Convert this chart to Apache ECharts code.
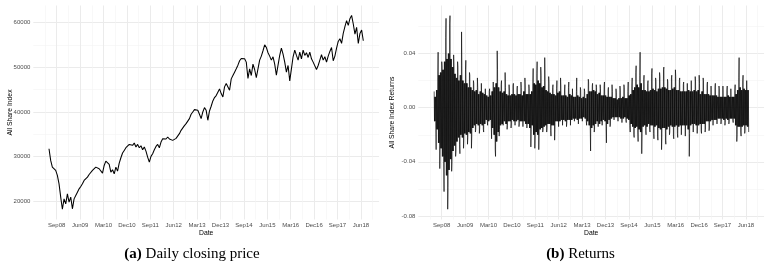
<!DOCTYPE html>
<html><head><meta charset="utf-8">
<script src="https://cdn.jsdelivr.net/npm/echarts@6/dist/echarts.min.js"></script>
<style>html,body{margin:0;padding:0;background:#fff}#c{width:767px;height:267px}</style>
</head><body><div id="c"></div>
<script>
// x axis unit: months since 1 Dec 2007
const xTickMonths = [9,18,27,36,45,54,63,72,81,90,99,108,117,126];
const xTickLabels = ['Sep08','Jun09','Mar10','Dec10','Sep11','Jun12','Mar13','Dec13','Sep14','Jun15','Mar16','Dec16','Sep17','Jun18'];
const xMinorMonths = [4.5,13.5,22.5,31.5,40.5,49.5,58.5,67.5,76.5,85.5,94.5,103.5,112.5,121.5,130.5];
const priceTicks = [20000,30000,40000,50000,60000];
const priceMinorTicks = [25000,35000,45000,55000];
const returnTicks = [-0.08,-0.04,0,0.04];
const returnMinorTicks = [-0.06,-0.02,0.02,0.06];

// Daily closing price, sampled every ~0.643 months from ~June 2008
const priceStartMonth = 6.04, priceStepMonths = 0.643;
const priceValues = [
31760,29140,27640,27790,26890,25770,23890,20900,18200,20520,
19400,21650,19780,20900,18300,20520,21270,22020,22770,23300,
23890,24640,25020,25390,25990,26290,26890,27040,27640,27790,
27270,27640,26290,28010,28990,29290,28240,26520,27040,26140,
27640,26740,28540,29740,30790,31380,31980,32280,32730,32880,
32510,33030,32130,32730,31980,32430,31530,32130,31230,29890,
28760,30040,30640,31530,32280,32730,31980,33260,34010,34380,
33930,34380,33930,34230,33630,33330,34080,34380,35130,35880,
36180,36930,37380,37680,38500,39470,40000,40520,40820,40370,
39470,38500,40000,40970,40370,38130,40220,41270,42470,43220,
43670,44420,45170,44120,43370,45620,46370,46810,44870,47410,
48160,48910,49660,50480,51460,51980,51610,51910,51160,47490,
49660,48160,50710,49510,47710,49660,51610,52510,53710,55050,
54450,53260,52510,51610,52360,50710,48240,50480,52660,54300,
52960,51160,48910,50410,46960,49660,52360,53860,52660,51610,
53410,51910,53860,52660,53260,52210,53410,51910,51160,50860,
49510,50410,51610,52810,51610,52360,51160,52510,53560,54450,
51460,52510,54300,55800,56400,55350,57600,59100,60450,59400,
60900,61640,59700,57450,58950,55350,57600,58350,55950
];

// Returns: per ~0.76-month column, the extreme high, dense-core low, dense-core high, extreme low
const retStartMonth = 6.1, retStepMonths = 0.7616;
const retHigh = [
0.012,0.022,0.041,0.034,0.030,0.052,0.066,0.062,0.068,0.039,
0.031,0.034,0.030,0.056,0.031,0.028,0.035,0.026,0.024,0.020,
0.018,0.022,0.015,0.018,0.017,0.014,0.015,0.012,0.014,0.019,
0.020,0.042,0.028,0.017,0.020,0.026,0.015,0.017,0.013,0.016,
0.018,0.014,0.016,0.019,0.015,0.022,0.016,0.017,0.014,0.018,
0.029,0.025,0.034,0.030,0.024,0.037,0.020,0.023,0.018,0.015,
0.017,0.014,0.020,0.022,0.016,0.013,0.017,0.015,0.019,0.014,
0.015,0.012,0.022,0.015,0.013,0.014,0.012,0.021,0.019,0.016,
0.018,0.017,0.015,0.017,0.014,0.016,0.019,0.013,0.015,0.017,
0.012,0.014,0.011,0.016,0.013,0.017,0.015,0.012,0.019,0.016,
0.022,0.026,0.031,0.024,0.041,0.021,0.024,0.018,0.020,0.025,
0.029,0.022,0.020,0.026,0.023,0.028,0.030,0.021,0.019,0.022,
0.024,0.028,0.023,0.020,0.022,0.017,0.019,0.018,0.019,0.020,
0.021,0.023,0.019,0.024,0.018,0.022,0.020,0.017,0.019,0.016,
0.017,0.015,0.018,0.016,0.014,0.016,0.015,0.013,0.016,0.014,
0.015,0.013,0.017,0.022,0.037,0.020,0.024,0.020,0.021
];
const retLow = [
-0.010,-0.031,-0.045,-0.028,-0.040,-0.062,-0.075,-0.059,-0.047,-0.040,
-0.036,-0.032,-0.027,-0.034,-0.030,-0.024,-0.027,-0.022,-0.030,-0.021,
-0.018,-0.016,-0.019,-0.015,-0.016,-0.018,-0.010,-0.013,-0.012,-0.023,
-0.031,-0.036,-0.021,-0.016,-0.013,-0.012,-0.016,-0.013,-0.015,-0.012,
-0.013,-0.012,-0.014,-0.012,-0.014,-0.013,-0.015,-0.014,-0.029,-0.016,
-0.030,-0.020,-0.031,-0.018,-0.018,-0.016,-0.018,-0.015,-0.017,-0.021,
-0.024,-0.016,-0.014,-0.015,-0.013,-0.012,-0.014,-0.011,-0.013,-0.012,
-0.010,-0.011,-0.012,-0.011,-0.010,-0.009,-0.010,-0.013,-0.015,-0.032,
-0.018,-0.016,-0.014,-0.015,-0.013,-0.012,-0.014,-0.026,-0.014,-0.012,
-0.009,-0.008,-0.010,-0.009,-0.011,-0.010,-0.009,-0.011,-0.013,-0.018,
-0.020,-0.022,-0.018,-0.025,-0.034,-0.019,-0.017,-0.020,-0.016,-0.018,
-0.019,-0.023,-0.021,-0.024,-0.031,-0.022,-0.024,-0.027,-0.020,-0.018,
-0.021,-0.023,-0.019,-0.022,-0.020,-0.019,-0.021,-0.020,-0.036,-0.019,
-0.018,-0.017,-0.019,-0.020,-0.017,-0.019,-0.018,-0.016,-0.017,-0.015,
-0.013,-0.014,-0.012,-0.011,-0.012,-0.010,-0.013,-0.011,-0.012,-0.010,
-0.009,-0.011,-0.025,-0.020,-0.018,-0.021,-0.019,-0.017,-0.018
];
const retCoreHigh = [
0.008,0.013,0.024,0.026,0.028,0.034,0.036,0.040,0.036,0.030,
0.025,0.022,0.020,0.024,0.020,0.018,0.018,0.015,0.015,0.013,
0.012,0.013,0.010,0.012,0.011,0.010,0.009,0.008,0.009,0.012,
0.015,0.018,0.015,0.012,0.011,0.012,0.010,0.009,0.009,0.010,
0.010,0.009,0.010,0.010,0.009,0.012,0.010,0.010,0.010,0.012,
0.018,0.017,0.020,0.018,0.015,0.016,0.013,0.012,0.011,0.010,
0.010,0.009,0.011,0.012,0.009,0.009,0.009,0.008,0.010,0.009,
0.008,0.008,0.009,0.008,0.007,0.008,0.007,0.010,0.012,0.012,
0.013,0.012,0.010,0.011,0.009,0.009,0.009,0.008,0.008,0.008,
0.007,0.007,0.006,0.007,0.007,0.008,0.007,0.007,0.009,0.010,
0.013,0.015,0.017,0.015,0.018,0.013,0.013,0.012,0.012,0.013,
0.014,0.013,0.012,0.014,0.014,0.015,0.015,0.014,0.013,0.013,
0.014,0.015,0.013,0.013,0.012,0.012,0.012,0.012,0.013,0.012,
0.012,0.013,0.012,0.013,0.010,0.012,0.010,0.010,0.010,0.009,
0.009,0.009,0.009,0.008,0.008,0.008,0.008,0.008,0.009,0.008,
0.008,0.008,0.010,0.013,0.015,0.013,0.014,0.013,0.013
];
const retCoreLow = [
-0.010,-0.016,-0.026,-0.030,-0.036,-0.040,-0.050,-0.046,-0.038,-0.032,
-0.028,-0.025,-0.022,-0.020,-0.022,-0.019,-0.020,-0.018,-0.019,-0.015,
-0.013,-0.012,-0.013,-0.012,-0.013,-0.012,-0.009,-0.010,-0.009,-0.015,
-0.020,-0.025,-0.018,-0.013,-0.012,-0.010,-0.012,-0.010,-0.010,-0.009,
-0.010,-0.010,-0.009,-0.010,-0.010,-0.010,-0.012,-0.012,-0.015,-0.013,
-0.020,-0.018,-0.020,-0.016,-0.015,-0.014,-0.013,-0.012,-0.012,-0.013,
-0.013,-0.010,-0.010,-0.010,-0.009,-0.009,-0.010,-0.009,-0.009,-0.009,
-0.008,-0.008,-0.009,-0.008,-0.008,-0.007,-0.008,-0.010,-0.013,-0.015,
-0.013,-0.012,-0.010,-0.012,-0.010,-0.009,-0.010,-0.012,-0.009,-0.008,
-0.007,-0.007,-0.007,-0.007,-0.008,-0.008,-0.007,-0.008,-0.009,-0.012,
-0.014,-0.015,-0.014,-0.016,-0.018,-0.014,-0.013,-0.014,-0.012,-0.013,
-0.013,-0.014,-0.013,-0.015,-0.016,-0.015,-0.015,-0.016,-0.014,-0.013,
-0.014,-0.014,-0.013,-0.014,-0.013,-0.013,-0.013,-0.013,-0.016,-0.013,
-0.012,-0.012,-0.013,-0.013,-0.012,-0.012,-0.012,-0.010,-0.010,-0.010,
-0.009,-0.009,-0.009,-0.008,-0.008,-0.008,-0.009,-0.008,-0.009,-0.008,
-0.008,-0.008,-0.013,-0.014,-0.014,-0.014,-0.013,-0.013,-0.014
];

const priceData = priceValues.map((v, i) => [priceStartMonth + i * priceStepMonths, v]);
// Each column is drawn as a dense up-down stroke: extreme, core, core, core, core, extreme
const retData = [];
retHigh.forEach((h, j) => {
  const x0 = retStartMonth + j * retStepMonths;
  const seq = (j % 2 === 0)
    ? [h, retCoreLow[j], retCoreHigh[j], retCoreLow[j], retCoreHigh[j], retLow[j]]
    : [retLow[j], retCoreHigh[j], retCoreLow[j], retCoreHigh[j], retCoreLow[j], h];
  seq.forEach((v, k) => retData.push([x0 + retStepMonths * k / 6, v]));
});

const SANS = '"Liberation Sans", Arial, sans-serif';
const tickLabel = { fontFamily: SANS, fontSize: 6, color: '#4d4d4d', margin: 3 };
const majorLine = { show: true, lineStyle: { color: '#ebebeb', width: 1 } };
const minorLine = { show: true, lineStyle: { color: '#f4f4f4', width: 0.6 } };
const X_MIN = 0, X_MAX = 133;

function xMain(g) {
  return {
    type: 'value', gridIndex: g, min: X_MIN, max: X_MAX, position: 'bottom',
    axisLine: { show: false }, axisTick: { show: false, customValues: xTickMonths },
    axisLabel: Object.assign({ customValues: xTickMonths,
      formatter: v => { const k = xTickMonths.indexOf(Math.round(v)); return k >= 0 ? xTickLabels[k] : ''; } }, tickLabel),
    splitLine: majorLine,
    name: 'Date', nameLocation: 'middle', nameGap: 10.5, nameMoveOverlap: false,
    nameTextStyle: { fontFamily: SANS, fontSize: 6.8, color: '#000' }
  };
}
function xMinor(g) {
  return {
    type: 'value', gridIndex: g, min: X_MIN, max: X_MAX, position: 'top',
    axisLine: { show: false }, axisTick: { show: false, customValues: xMinorMonths },
    axisLabel: { show: false }, splitLine: minorLine
  };
}
function yMain(g, min, max, ticks, fmt, name, gap) {
  return {
    type: 'value', gridIndex: g, min: min, max: max, position: 'left',
    axisLine: { show: false }, axisTick: { show: false, customValues: ticks },
    axisLabel: Object.assign({ customValues: ticks, formatter: fmt }, tickLabel),
    splitLine: majorLine,
    name: name, nameLocation: 'middle', nameGap: gap, nameMoveOverlap: false,
    nameTextStyle: { fontFamily: SANS, fontSize: 6.8, color: '#000' }
  };
}
function yMinor(g, min, max, ticks) {
  return {
    type: 'value', gridIndex: g, min: min, max: max, position: 'right',
    axisLine: { show: false }, axisTick: { show: false, customValues: ticks },
    axisLabel: { show: false }, splitLine: minorLine
  };
}

const chart = echarts.init(document.getElementById('c'), null, { renderer: 'canvas' });
chart.setOption({
  backgroundColor: '#fff',
  animation: false,
  grid: [
    { left: 33.3, top: 5.5, width: 345.8, height: 214, outerBoundsMode: 'none' },
    { left: 418.3, top: 5.5, width: 345.8, height: 214, outerBoundsMode: 'none' }
  ],
  xAxis: [xMain(0), xMinor(0), xMain(1), xMinor(1)],
  yAxis: [
    yMain(0, 15900, 63850, priceTicks, v => String(Math.round(v)), 'All Share Index', 20),
    yMinor(0, 15900, 63850, priceMinorTicks),
    yMain(1, -0.0826, 0.0755, returnTicks, v => v.toFixed(2), 'All Share Index Returns', 22.3),
    yMinor(1, -0.0826, 0.0755, returnMinorTicks)
  ],
  series: [
    { type: 'line', xAxisIndex: 0, yAxisIndex: 0, data: priceData, showSymbol: false, symbol: 'none',
      lineStyle: { color: '#000', width: 1.05 }, silent: true, clip: true },
    { type: 'line', xAxisIndex: 2, yAxisIndex: 2, data: retData, showSymbol: false, symbol: 'none',
      lineStyle: { color: '#000', width: 0.65 }, silent: true, clip: true }
  ],
  graphic: [
    { type: 'text', x: 192, y: 254, style: {
      text: '{b|(a)} Daily closing price', fill: '#000',
      font: '15px "Liberation Serif", "Times New Roman", serif',
      align: 'center', verticalAlign: 'middle',
      rich: { b: { fontWeight: 'bold', fontSize: 15, fontFamily: '"Liberation Serif", serif' } } } },
    { type: 'text', x: 580.5, y: 254, style: {
      text: '{b|(b)} Returns', fill: '#000',
      font: '15px "Liberation Serif", "Times New Roman", serif',
      align: 'center', verticalAlign: 'middle',
      rich: { b: { fontWeight: 'bold', fontSize: 15, fontFamily: '"Liberation Serif", serif' } } } }
  ]
});
</script></body></html>
